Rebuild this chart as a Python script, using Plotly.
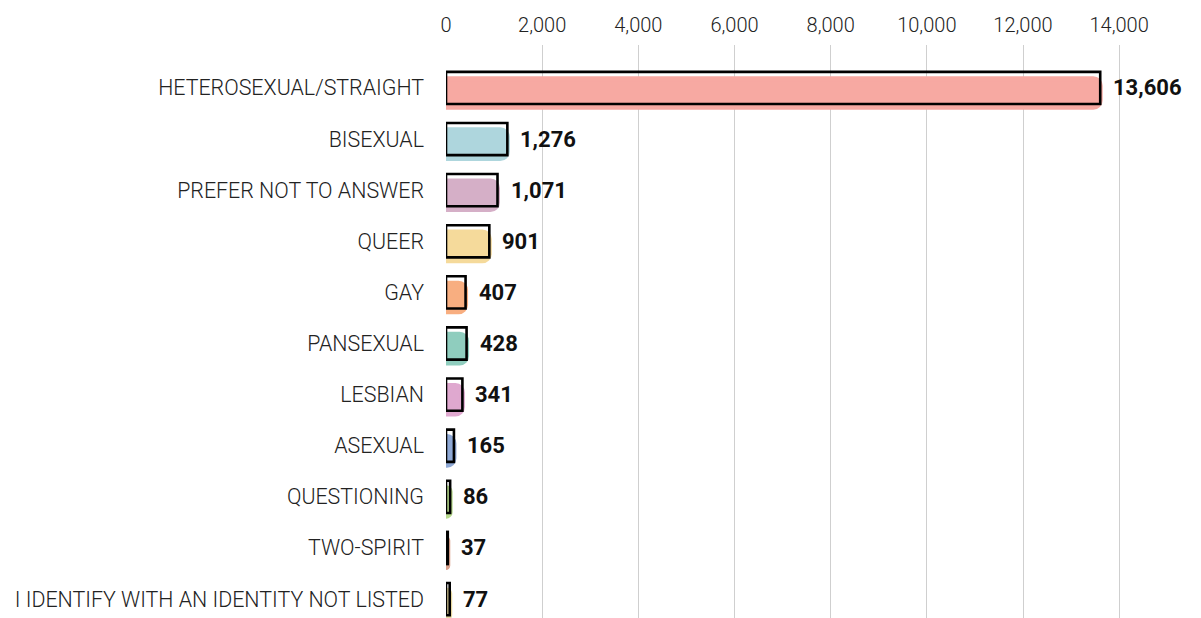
import plotly.graph_objects as go

categories = [
    "HETEROSEXUAL/STRAIGHT", "BISEXUAL", "PREFER NOT TO ANSWER", "QUEER", "GAY",
    "PANSEXUAL", "LESBIAN", "ASEXUAL", "QUESTIONING", "TWO-SPIRIT",
    "I IDENTIFY WITH AN IDENTITY NOT LISTED",
]
values = [13606, 1276, 1071, 901, 407, 428, 341, 165, 86, 37, 77]
brush_colors = [
    "#F7A9A2", "#AED6DD", "#D5AFC7", "#F5DA9B", "#F8AE80", "#8FCDBE",
    "#DFA8CF", "#8EA8D5", "#B7D98C", "#D9A08B", "#E6D79E",
]
tick_vals = [0, 2000, 4000, 6000, 8000, 10000, 12000, 14000]
tick_text = ["0", "2,000", "4,000", "6,000", "8,000", "10,000", "12,000", "14,000"]

fig = go.Figure()

# sketchy coloured fill
fig.add_trace(go.Bar(
    y=categories, x=values, orientation="h",
    marker=dict(color=brush_colors, line=dict(color=brush_colors, width=5), cornerradius=7),
    width=0.56, offset=-0.18, hoverinfo="skip", showlegend=False,
))
# black outline
fig.add_trace(go.Bar(
    y=categories, x=values, orientation="h",
    marker=dict(color="rgba(0,0,0,0)", line=dict(color="#000000", width=2.6)),
    width=0.63, offset=-0.315, hoverinfo="skip", showlegend=False,
))

for c, v in zip(categories, values):
    fig.add_annotation(
        x=v, y=c, text=f"{v:,}", showarrow=False, xanchor="left", yanchor="middle",
        xshift=11, font=dict(family="Roboto", size=22, color="#111111", weight=700),
    )

fig.update_layout(
    width=1185, height=610,
    margin=dict(l=438, r=2, t=37, b=0),
    paper_bgcolor="white", plot_bgcolor="white",
    barmode="overlay",
    font=dict(family="Roboto", color="#222222"),
    xaxis=dict(
        side="top", range=[0, 15494], tickvals=tick_vals, ticktext=tick_text,
        showgrid=True, gridcolor="#cfcfcf", gridwidth=1, zeroline=False,
        showline=False, ticks="", ticklabelstandoff=8, automargin=False,
        tickfont=dict(family="Roboto", size=20, color="#222222", weight=300),
    ),
    yaxis=dict(
        type="category", categoryorder="array", categoryarray=categories,
        range=[10.37, -0.84], showgrid=False, zeroline=False, showline=False,
        ticks="", ticklabelstandoff=21, automargin=False,
        tickfont=dict(family="Roboto", size=21.4, color="#222222", weight=300),
    ),
)

fig.write_html("out.html")
